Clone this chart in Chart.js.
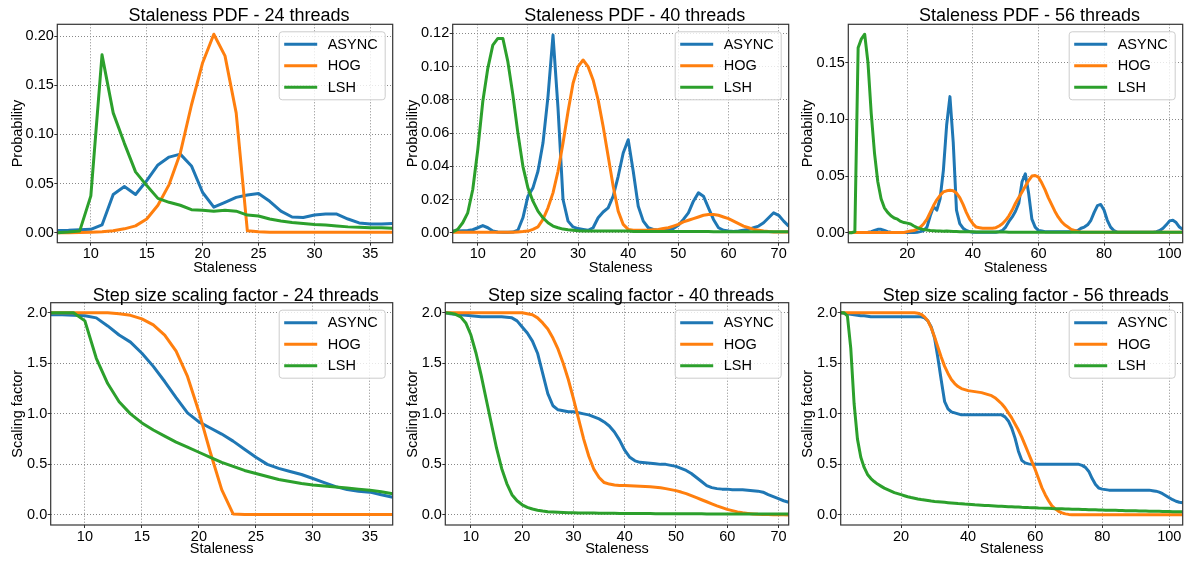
<!DOCTYPE html>
<html><head><meta charset="utf-8">
<script src="https://cdn.jsdelivr.net/npm/chart.js@4.4.0/dist/chart.umd.min.js"></script>
<style>
html,body{margin:0;padding:0;background:#fff;}
body{width:1189px;height:561px;position:relative;overflow:hidden;}
canvas{position:absolute;}
</style></head><body>
<canvas id="c1"></canvas><canvas id="c2"></canvas><canvas id="c3"></canvas>
<canvas id="c4"></canvas><canvas id="c5"></canvas><canvas id="c6"></canvas>
<script>
// ---------- DATA ----------
const seriesNames = ['ASYNC', 'HOG', 'LSH'];

const stal24 = [7,8,9,10,11,12,13,14,15,16,17,18,19,20,21,22,23,24,25,26,27,28,29,30,31,32,33,34,35,36,37];
const stal40 = [5,6,7,8,9,10,11,12,13,14,15,16,17,18,19,20,21,22,23,24,25,26,27,28,29,30,31,32,33,34,35,36,37,38,39,40,41,42,43,44,45,46,47,48,49,50,51,52,53,54,55,56,57,58,59,60,61,62,63,64,65,66,67,68,69,70,71,72];
const stal56 = [2,3,4,5,6,7,8,9,10,11,12,13,14,15,16,17,18,19,20,21,22,23,24,25,26,27,28,29,30,31,32,33,34,35,36,37,38,39,40,41,42,43,44,45,46,47,48,49,50,51,52,53,54,55,56,57,58,59,60,61,62,63,64,65,66,67,68,69,70,71,72,73,74,75,76,77,78,79,80,81,82,83,84,85,86,87,88,89,90,91,92,93,94,95,96,97,98,99,100,101,102,103,104];

// Staleness PDF - 24 threads
const pdfAsync24 = [0.0024,0.0025,0.003,0.0035,0.008,0.039,0.047,0.039,0.053,0.069,0.077,0.080,0.068,0.041,0.026,0.031,0.036,0.0385,0.040,0.032,0.022,0.016,0.0155,0.018,0.019,0.019,0.014,0.010,0.009,0.009,0.0095];
const pdfHog24 = [0,0,0.0002,0.0005,0.001,0.002,0.004,0.007,0.014,0.028,0.049,0.081,0.130,0.173,0.202,0.180,0.122,0.002,0.001,0.0005,0.0005,0.0005,0.0005,0.0005,0.0005,0.0005,0.0005,0.0005,0.0005,0.0005,0.0005];
const pdfLsh24 = [0,0.0007,0.0017,0.0375,0.181,0.122,0.091,0.062,0.048,0.035,0.031,0.028,0.0235,0.023,0.022,0.023,0.022,0.018,0.017,0.014,0.012,0.0105,0.0095,0.0085,0.008,0.007,0.006,0.0055,0.005,0.005,0.0045];

// Staleness PDF - 40 threads
const pdfAsync40 = [0.001,0.001,0.0012,0.0013,0.0018,0.003,0.0043,0.003,0.001,0.0005,
  0.0003,0.0003,0.0004,0.0015,0.009,0.022,0.027,0.037,0.054,0.082,
  0.119,0.075,0.02,0.007,0.0035,0.0025,0.002,0.0015,0.003,0.009,
  0.0125,0.015,0.022,0.034,0.048,0.056,0.037,0.016,0.007,0.003,
  0.002,0.0015,0.0012,0.0015,0.0025,0.0045,0.008,0.012,0.019,0.024,
  0.022,0.015,0.008,0.003,0.0015,0.001,0.0008,0.001,0.0015,0.002,
  0.003,0.004,0.006,0.009,0.012,0.0105,0.007,0.004];
const pdfHog40 = [0.0003,0.0003,0.0003,0.0003,0.0003,0.0003,0.0003,0.0003,0.0003,0.0003,
  0.0003,0.0003,0.0003,0.0005,0.0007,0.001,0.002,0.0035,0.008,0.015,
  0.024,0.037,0.054,0.073,0.09,0.1,0.104,0.1,0.092,0.08,
  0.064,0.046,0.028,0.013,0.005,0.002,0.0015,0.0015,0.0015,0.0015,
  0.0018,0.002,0.0025,0.003,0.004,0.005,0.0065,0.0075,0.0085,0.0095,
  0.0105,0.011,0.011,0.0105,0.0095,0.0085,0.007,0.0055,0.004,0.003,
  0.002,0.0015,0.001,0.0007,0.0005,0.0005,0.0005,0.0005];
const pdfLsh40 = [0.0005,0.002,0.006,0.012,0.026,0.05,0.079,0.099,0.113,0.117,
  0.117,0.103,0.083,0.06,0.04,0.027,0.019,0.013,0.009,0.006,
  0.004,0.003,0.0022,0.0018,0.0015,0.0012,0.001,0.001,0.001,0.001,
  0.001,0.001,0.001,0.001,0.001,0.001,0.0008,0.0008,0.0008,0.0008,
  0.0008,0.0008,0.0008,0.0008,0.0008,0.0008,0.0008,0.0008,0.0008,0.0008,
  0.0008,0.0008,0.0006,0.0006,0.0006,0.0006,0.0006,0.0006,0.0006,0.0006,
  0.0006,0.0006,0.0006,0.0006,0.0006,0.0006,0.0006,0.0006];

// Staleness PDF - 56 threads
const pdfAsync56 = [0.0003,0.0003,0.0003,0.0003,0.0003,0.0003,0.0005,0.001,0.002,0.003,
  0.003,0.002,0.001,0.0005,0.0003,0.0003,0.0003,0.0003,0.0003,0.0003,
  0.0003,0.0005,0.001,0.002,0.005,0.015,0.023,0.02,0.03,0.055,
  0.095,0.12,0.08,0.02,0.008,0.004,0.002,0.001,0.0005,0.0005,
  0.0005,0.0005,0.0005,0.0005,0.0005,0.0005,0.001,0.002,0.005,0.01,
  0.014,0.019,0.026,0.045,0.052,0.035,0.012,0.005,0.002,0.0015,
  0.001,0.001,0.001,0.001,0.001,0.001,0.001,0.001,0.001,0.0015,
  0.002,0.004,0.005,0.007,0.011,0.018,0.024,0.025,0.02,0.011,
  0.005,0.002,0.0005,0.0005,0.0005,0.0005,0.0005,0.0005,0.0005,0.0005,
  0.0005,0.0005,0.0005,0.0005,0.001,0.002,0.004,0.007,0.0105,0.011,
  0.009,0.005,0.003];
const pdfHog56 = [0.0003,0.0003,0.0003,0.0003,0.0003,0.0003,0.0003,0.0003,0.0003,0.0003,
  0.0003,0.0003,0.0003,0.0003,0.0003,0.0003,0.0003,0.0003,0.001,0.0015,
  0.002,0.003,0.005,0.008,0.012,0.018,0.024,0.029,0.033,0.036,
  0.037,0.0375,0.037,0.035,0.031,0.025,0.018,0.012,0.008,0.005,
  0.0045,0.004,0.004,0.004,0.004,0.0045,0.006,0.008,0.011,0.015,
  0.02,0.026,0.031,0.036,0.041,0.046,0.05,0.0505,0.049,0.044,
  0.038,0.031,0.025,0.019,0.014,0.01,0.007,0.005,0.003,0.002,
  0.0012,0.0005,0.0005,0.0005,0.0005,0.0005,0.0005,0.0005,0.0005,0.0005,
  0.0005,0.0005,0.0005,0.0005,0.0005,0.0005,0.0005,0.0005,0.0005,0.0005,
  0.0005,0.0005,0.0005,0.0005,0.0005,0.0005,0.0005,0.0005,0.0005,0.0005,
  0.0005,0.0005,0.0005];
const pdfLsh56 = [0,0,0.001,0.163,0.171,0.175,0.15,0.105,0.07,0.045,
  0.03,0.022,0.018,0.015,0.013,0.012,0.01,0.009,0.0085,0.0078,
  0.006,0.0045,0.0035,0.0028,0.0024,0.002,0.0018,0.0016,0.0015,0.0014,
  0.0016,0.0014,0.0012,0.0011,0.001,0.001,0.001,0.001,0.001,0.0007,
  0.0007,0.0007,0.0007,0.0007,0.0007,0.0007,0.0007,0.0007,0.0007,0.0004,
  0.0004,0.0004,0.0004,0.0004,0.0004,0.0004,0.0004,0.0004,0.0004,0.0004,
  0.0004,0.0004,0.0004,0.0004,0.0004,0.0004,0.0004,0.0004,0.0004,0.0004,
  0.0004,0.0004,0.0004,0.0004,0.0004,0.0004,0.0004,0.0004,0.0004,0.0004,
  0.0004,0.0004,0.0004,0.0004,0.0004,0.0004,0.0004,0.0004,0.0004,0.0004,
  0.0004,0.0004,0.0004,0.0004,0.0004,0.0004,0.0004,0.0004,0.0004,0.0004,
  0.0004,0.0004,0.0004];

// Step size scaling factor - 24 threads
const scaleAsync24 = [1.98,1.98,1.975,1.97,1.95,1.87,1.78,1.71,1.6,1.47,1.32,1.16,1.01,0.92,0.86,0.8,0.73,0.65,0.57,0.5,0.46,0.43,0.4,0.36,0.32,0.28,0.25,0.235,0.225,0.2,0.175];
const scaleHog24 = [2,2,2,2,2,2,1.99,1.975,1.94,1.88,1.78,1.62,1.37,1.02,0.62,0.25,0.01,0.003,0.003,0.003,0.003,0.003,0.003,0.003,0.003,0.003,0.003,0.003,0.003,0.003,0.003];
const scaleLsh24 = [2,2,2,1.92,1.55,1.3,1.12,1.0,0.91,0.84,0.78,0.72,0.67,0.62,0.57,0.52,0.48,0.44,0.41,0.38,0.35,0.33,0.31,0.295,0.285,0.275,0.265,0.255,0.245,0.228,0.21];

// Step size scaling factor - 40 threads
const scaleAsync40 = [2.0,1.99,1.985,1.98,1.975,1.97,1.965,1.96,1.96,1.96,
  1.96,1.96,1.955,1.95,1.92,1.86,1.8,1.72,1.6,1.4,
  1.2,1.08,1.04,1.03,1.02,1.02,1.01,1.0,0.99,0.97,
  0.95,0.92,0.88,0.82,0.74,0.64,0.57,0.535,0.52,0.515,
  0.51,0.505,0.5,0.5,0.49,0.48,0.46,0.44,0.41,0.37,
  0.33,0.29,0.27,0.26,0.255,0.255,0.25,0.25,0.25,0.245,
  0.24,0.235,0.225,0.2,0.18,0.16,0.14,0.125];
const scaleHog40 = [2,2,2,2,2,2,2,2,2,2,
  2,2,2,2,2,2,1.99,1.98,1.95,1.9,
  1.84,1.75,1.64,1.5,1.34,1.15,0.95,0.75,0.58,0.45,
  0.37,0.32,0.305,0.295,0.29,0.29,0.288,0.285,0.283,0.28,
  0.278,0.274,0.268,0.26,0.25,0.24,0.226,0.21,0.19,0.17,
  0.15,0.13,0.11,0.09,0.072,0.055,0.042,0.03,0.021,0.015,
  0.01,0.006,0.004,0.003,0.002,0.001,0.001,0];
const scaleLsh40 = [2.0,1.995,1.985,1.96,1.9,1.78,1.6,1.38,1.14,0.9,
  0.66,0.46,0.31,0.2,0.14,0.1,0.075,0.058,0.046,0.038,
  0.032,0.028,0.025,0.023,0.021,0.02,0.019,0.019,0.018,0.018,
  0.017,0.017,0.016,0.016,0.015,0.015,0.014,0.014,0.013,0.013,
  0.013,0.012,0.012,0.012,0.012,0.012,0.011,0.011,0.011,0.011,
  0.011,0.01,0.01,0.01,0.01,0.01,0.01,0.01,0.01,0.01,
  0.009,0.009,0.009,0.009,0.008,0.008,0.008,0.008];

// Step size scaling factor - 56 threads
const scaleAsync56 = [2.0,1.995,1.99,1.985,1.98,1.975,1.97,1.97,1.965,1.96,
  1.96,1.96,1.96,1.96,1.96,1.96,1.96,1.96,1.96,1.96,
  1.96,1.96,1.96,1.96,1.96,1.95,1.92,1.86,1.75,1.55,
  1.33,1.12,1.05,1.02,1.01,1.0,0.99,0.99,0.99,0.99,
  0.99,0.99,0.99,0.99,0.99,0.99,0.99,0.99,0.99,0.97,
  0.93,0.86,0.76,0.63,0.54,0.515,0.505,0.5,0.5,0.5,
  0.5,0.5,0.5,0.5,0.5,0.5,0.5,0.5,0.5,0.5,
  0.5,0.5,0.49,0.47,0.43,0.36,0.3,0.265,0.255,0.25,
  0.245,0.245,0.245,0.245,0.245,0.245,0.245,0.245,0.245,0.245,
  0.245,0.245,0.245,0.24,0.235,0.225,0.21,0.19,0.17,0.15,
  0.135,0.125,0.12];
const scaleHog56 = [2,2,2,2,2,2,2,2,2,2,
  2,2,2,2,2,2,2,2,2,2,
  2,2,2,1.995,1.985,1.96,1.92,1.85,1.76,1.66,
  1.56,1.47,1.4,1.34,1.3,1.27,1.25,1.24,1.23,1.225,
  1.22,1.215,1.21,1.2,1.19,1.18,1.16,1.13,1.1,1.06,
  1.01,0.96,0.9,0.84,0.77,0.69,0.61,0.53,0.45,0.36,
  0.27,0.2,0.14,0.09,0.06,0.035,0.02,0.01,0.005,0.002,
  0.002,0.002,0.002,0.002,0.002,0.002,0.002,0.002,0.002,0.002,
  0.002,0.002,0.002,0.002,0.002,0.002,0.002,0.002,0.002,0.002,
  0.002,0.002,0.002,0.002,0.002,0.002,0.002,0.002,0.002,0.002,
  0.002,0.002,0.002];
const scaleLsh56 = [2.0,2.0,1.97,1.65,1.1,0.75,0.57,0.47,0.4,0.36,
  0.33,0.305,0.285,0.265,0.25,0.235,0.22,0.21,0.2,0.19,
  0.18,0.172,0.165,0.158,0.152,0.147,0.142,0.137,0.133,0.13,
  0.127,0.124,0.121,0.118,0.115,0.112,0.11,0.107,0.105,0.103,
  0.1,0.098,0.096,0.094,0.092,0.09,0.088,0.086,0.085,0.083,
  0.081,0.08,0.078,0.077,0.075,0.074,0.072,0.071,0.07,0.068,
  0.067,0.066,0.065,0.063,0.062,0.061,0.06,0.059,0.058,0.057,
  0.056,0.055,0.054,0.053,0.052,0.051,0.05,0.049,0.048,0.047,
  0.046,0.045,0.045,0.044,0.043,0.042,0.041,0.041,0.04,0.039,
  0.038,0.038,0.037,0.036,0.035,0.035,0.034,0.033,0.033,0.032,
  0.031,0.031,0.03];

// tick values and labels
const xTicks24 = [10,15,20,25,30,35];
const xTicks40 = [10,20,30,40,50,60,70];
const xTicks56 = [20,40,60,80,100];
const yTicksPdf24 = [0,0.05,0.10,0.15,0.20];
const yLabelsPdf24 = ['0.00','0.05','0.10','0.15','0.20'];
const yTicksPdf40 = [0,0.02,0.04,0.06,0.08,0.10,0.12];
const yLabelsPdf40 = ['0.00','0.02','0.04','0.06','0.08','0.10','0.12'];
const yTicksPdf56 = [0,0.05,0.10,0.15];
const yLabelsPdf56 = ['0.00','0.05','0.10','0.15'];
const yTicksScale = [0,0.5,1.0,1.5,2.0];
const yLabelsScale = ['0.0','0.5','1.0','1.5','2.0'];

// ---------- STYLE / LAYOUT ----------
const FONT = "'Liberation Sans', Arial, Helvetica, sans-serif";
Chart.defaults.font.family = FONT;
Chart.defaults.font.size = 14.5;
Chart.defaults.color = '#000';
const colors = ['#1f77b4', '#ff7f0e', '#2ca02c'];

const mplPlugin = {
  id: 'mpl',
  afterDatasetsDraw(chart) {
    const {ctx, chartArea: a} = chart;
    ctx.save();
    ctx.strokeStyle = '#333';
    ctx.lineWidth = 1.2;
    ctx.strokeRect(a.left, a.top, a.right - a.left, a.bottom - a.top);
    ctx.restore();
  },
  afterDraw(chart, args, opts) {
    const {ctx, chartArea: a} = chart;
    ctx.save();
    // title
    ctx.font = '18px ' + FONT;
    ctx.fillStyle = '#000';
    ctx.textAlign = 'center';
    ctx.textBaseline = 'alphabetic';
    ctx.fillText(opts.title, (a.left + a.right) / 2 + 14, 20.7);
    // legend
    const bw = 106, bh = 68;
    const bx = a.right - 7.5 - bw, by = a.top + 7.5;
    const r = 3;
    ctx.beginPath();
    ctx.moveTo(bx + r, by);
    ctx.lineTo(bx + bw - r, by); ctx.quadraticCurveTo(bx + bw, by, bx + bw, by + r);
    ctx.lineTo(bx + bw, by + bh - r); ctx.quadraticCurveTo(bx + bw, by + bh, bx + bw - r, by + bh);
    ctx.lineTo(bx + r, by + bh); ctx.quadraticCurveTo(bx, by + bh, bx, by + bh - r);
    ctx.lineTo(bx, by + r); ctx.quadraticCurveTo(bx, by, bx + r, by);
    ctx.closePath();
    ctx.fillStyle = 'rgba(255,255,255,0.8)';
    ctx.fill();
    ctx.strokeStyle = '#cccccc';
    ctx.lineWidth = 1;
    ctx.stroke();
    ctx.font = '14.5px ' + FONT;
    ctx.textAlign = 'left';
    ctx.textBaseline = 'middle';
    chart.data.datasets.forEach((ds, i) => {
      const cy = by + 12.5 + i * 21.5;
      ctx.beginPath();
      ctx.moveTo(bx + 5, cy); ctx.lineTo(bx + 38, cy);
      ctx.strokeStyle = ds.borderColor; ctx.lineWidth = 3; ctx.lineCap = 'butt';
      ctx.stroke();
      ctx.fillStyle = '#000';
      ctx.fillText(ds.label, bx + 48.5, cy + 0.5);
    });
    ctx.restore();
  }
};

const panels = [
  {id:'c1', left:0,   top:0,   w:400, h:280, L:57.3, T:24.3, R:7.3, B:37.3, title:'Staleness PDF - 24 threads', yTitle:'Probability',
   xs:stal24, series:[pdfAsync24,pdfHog24,pdfLsh24], xMin:7, xMax:37, yMin:-0.0101, yMax:0.2121, xTicks:xTicks24, yTicks:yTicksPdf24, yLabels:yLabelsPdf24},
  {id:'c2', left:395, top:0,   w:400, h:280, L:57.7, T:24.3, R:6.3, B:37.3, title:'Staleness PDF - 40 threads', yTitle:'Probability',
   xs:stal40, series:[pdfAsync40,pdfHog40,pdfLsh40], xMin:5, xMax:72, yMin:-0.006, yMax:0.1255, xTicks:xTicks40, yTicks:yTicksPdf40, yLabels:yLabelsPdf40},
  {id:'c3', left:790, top:0,   w:399, h:280, L:58.3, T:24.3, R:6.3, B:37.3, title:'Staleness PDF - 56 threads', yTitle:'Probability',
   xs:stal56, series:[pdfAsync56,pdfHog56,pdfLsh56], xMin:2, xMax:104, yMin:-0.00875, yMax:0.18375, xTicks:xTicks56, yTicks:yTicksPdf56, yLabels:yLabelsPdf56},
  {id:'c4', left:0,   top:280, w:400, h:281, L:50.7, T:22.7, R:7.3, B:36, title:'Step size scaling factor - 24 threads', yTitle:'Scaling factor',
   xs:stal24, series:[scaleAsync24,scaleHog24,scaleLsh24], xMin:7, xMax:37, yMin:-0.1, yMax:2.1, xTicks:xTicks24, yTicks:yTicksScale, yLabels:yLabelsScale},
  {id:'c5', left:395, top:280, w:400, h:281, L:50.3, T:22.7, R:6.3, B:36, title:'Step size scaling factor - 40 threads', yTitle:'Scaling factor',
   xs:stal40, series:[scaleAsync40,scaleHog40,scaleLsh40], xMin:5, xMax:72, yMin:-0.1, yMax:2.1, xTicks:xTicks40, yTicks:yTicksScale, yLabels:yLabelsScale},
  {id:'c6', left:790, top:280, w:399, h:281, L:50.7, T:22.7, R:6.3, B:36, title:'Step size scaling factor - 56 threads', yTitle:'Scaling factor',
   xs:stal56, series:[scaleAsync56,scaleHog56,scaleLsh56], xMin:2, xMax:104, yMin:-0.1, yMax:2.1, xTicks:xTicks56, yTicks:yTicksScale, yLabels:yLabelsScale}
];

function gridOpts() {
  return {color:'#888888', lineWidth:1, drawTicks:true, tickLength:3, tickColor:'#333', tickWidth:1, tickBorderDash:[]};
}

panels.forEach(p => {
  const cv = document.getElementById(p.id);
  cv.width = p.w; cv.height = p.h;
  cv.style.left = p.left + 'px'; cv.style.top = p.top + 'px';
  cv.style.width = p.w + 'px'; cv.style.height = p.h + 'px';
  new Chart(cv, {
    type: 'line',
    data: {
      datasets: p.series.map((ys, i) => ({
        label: seriesNames[i],
        data: p.xs.map((x, j) => ({x: x, y: ys[j]})),
        borderColor: colors[i],
        backgroundColor: colors[i],
        borderWidth: 3,
        pointRadius: 0,
        pointHoverRadius: 0,
        fill: false,
        tension: 0,
        borderJoinStyle: 'round',
        order: 2 - i
      }))
    },
    options: {
      responsive: false,
      animation: false,
      devicePixelRatio: 1,
      events: [],
      layout: {padding: {left: 0, top: p.T, right: p.R, bottom: 0}},
      plugins: {
        legend: {display: false},
        title: {display: false},
        tooltip: {enabled: false},
        mpl: {title: p.title}
      },
      scales: {
        x: {
          type: 'linear', position: 'bottom', min: p.xMin, max: p.xMax, bounds: 'data',
          afterBuildTicks: s => { s.ticks = p.xTicks.map(v => ({value: v})); },
          afterFit: s => { s.height = p.B; },
          ticks: {autoSkip: false, maxRotation: 0, padding: 0, color: '#000', font: {size: 14.5},
                  callback: (v, i) => String(p.xTicks[i])},
          grid: gridOpts(),
          border: {display: false, dash: [1, 2]},
          title: {display: true, text: 'Staleness', color: '#000', font: {size: 14.5, lineHeight: 1.2},
                  padding: {top: 0, bottom: 3.8}}
        },
        y: {
          type: 'linear', position: 'left', min: p.yMin, max: p.yMax, bounds: 'data',
          afterBuildTicks: s => { s.ticks = p.yTicks.map(v => ({value: v})); },
          afterFit: s => { s.width = p.L; },
          ticks: {autoSkip: false, padding: 0.5, color: '#000', font: {size: 14.5},
                  callback: (v, i) => p.yLabels[i]},
          grid: gridOpts(),
          border: {display: false, dash: [1, 2]},
          title: {display: true, text: p.yTitle, color: '#000', font: {size: 14.5, lineHeight: 1.2},
                  padding: {top: 9, bottom: 0}}
        }
      }
    },
    plugins: [mplPlugin]
  });
});
</script>
</body></html>
